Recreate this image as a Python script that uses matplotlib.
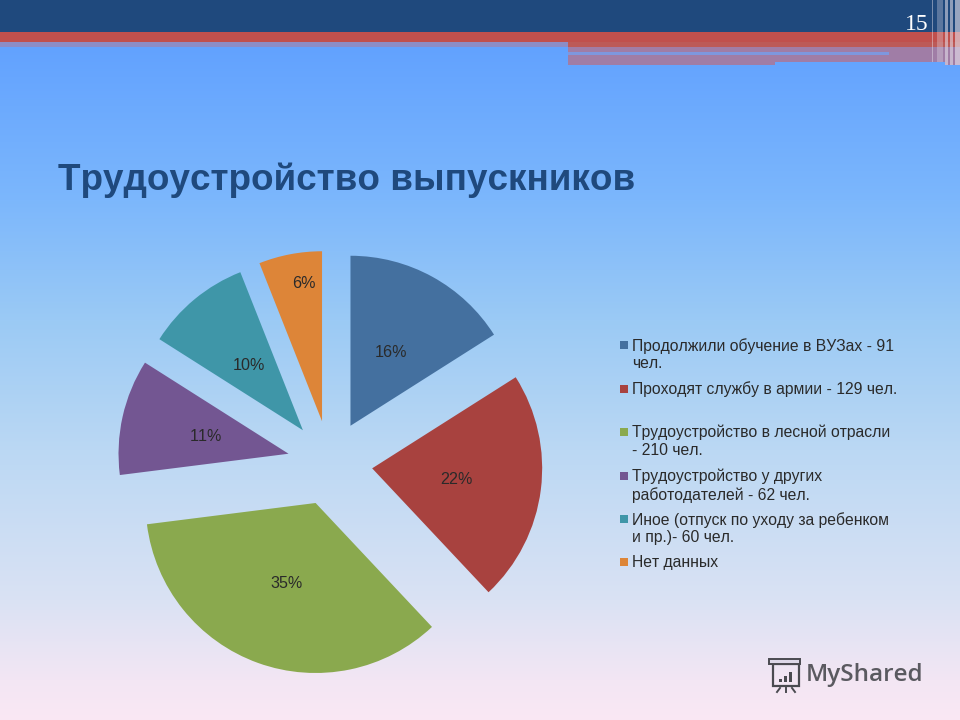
import numpy as np
import matplotlib
matplotlib.use("Agg")
import matplotlib.pyplot as plt
from matplotlib.patches import Rectangle

title = "Трудоустройство выпускников"
slide_number = "15"
watermark = "MyShared"
percent_values = [16, 22, 35, 11, 10, 6]
legend_labels = [
    "Продолжили обучение в ВУЗах - 91\nчел.",
    "Проходят службу в армии - 129 чел.",
    "Трудоустройство в лесной отрасли\n- 210 чел.",
    "Трудоустройство у других\nработодателей - 62 чел.",
    "Иное (отпуск по уходу за ребенком\nи пр.)- 60 чел.",
    "Нет данных",
]
slice_colors = ["#44709F", "#A8423F", "#8AA94E", "#735692", "#3F96A8", "#DD8538"]

plt.rcParams["font.family"] = ["Liberation Sans", "DejaVu Sans"]
plt.rcParams["text.kerning_factor"] = 6
W, H = 960, 720
fig = plt.figure(figsize=(9.6, 7.2), dpi=100)

# slide background in pixel coordinates
bg = fig.add_axes([0, 0, 1, 1])
bg.set_xlim(0, W)
bg.set_ylim(H, 0)
bg.axis("off")
ys = np.arange(H)
stop_y = [0, 47, 200, 320, 450, 600, 680, 720]
stop_c = np.array([(98, 162, 255), (98, 162, 255), (124, 183, 252), (155, 202, 245),
                   (187, 216, 243), (218, 226, 243), (243, 230, 243), (250, 232, 244)]) / 255
grad = np.stack([np.interp(ys, stop_y, stop_c[:, i]) for i in range(3)], axis=-1)[:, None, :]
bg.imshow(grad, extent=(0, W, H, 0), aspect="auto", zorder=0)

def band(x0, y0, x1, y1, c, a=1.0, z=1):
    bg.add_patch(Rectangle((x0, y0), x1 - x0, y1 - y0, fc=c, ec="none", alpha=a, zorder=z))

band(0, 0, W, 32, "#1F497D")
band(0, 32, W, 42, "#C0504D")
band(0, 42, 568, 47, "#8C8DC6")
band(568, 42, W, 47, "#BC5A58")
band(568, 47, 775, 65, "#A07DA6")
band(775, 47, 960, 62, "#A07DA6")
band(945, 62, 960, 65, "#A07DA6")
band(568, 52, 889, 55, "#7E97DE", z=2)
for x0, x1, y1, a in [(932, 933, 62, .45), (937, 943, 62, .3), (945, 948, 65, .55),
                      (950, 953, 65, .55), (955, 960, 65, .6)]:
    band(x0, 0, x1, y1, "#E8E4EE", a, z=3)

bg.text(917, 24, slide_number, family="Liberation Serif", fontsize=17, color="white",
        ha="center", va="center", zorder=4)
bg.text(58, 180, title, fontsize=26.6, fontweight="bold", color="#1F497D", va="center", ha="left")

# legend
marker_y = [345, 389, 432, 476, 519, 562]
text_top = [338, 381, 425, 469, 512, 555]
for c, lab, my, ty in zip(slice_colors, legend_labels, marker_y, text_top):
    band(619.5, my - 4, 627.5, my + 4, c, z=2)
    bg.text(632, ty, lab, fontsize=11.35, color="#2A2A2A", va="top", ha="left", linespacing=1.2)

# watermark
ink = "#4A4A50"
bg.add_patch(Rectangle((773, 664), 26, 22, fc="none", ec=ink, lw=1.6))
bg.add_patch(Rectangle((769, 659), 31, 5, fc="#DDD8E8", ec=ink, lw=1.4))
for x, h in zip([779, 784, 789], [3, 6, 10]):
    band(x, 682 - h, x + 3, 682, ink, z=3)
for x0, x1 in [(780, 777), (786, 786), (792, 795)]:
    bg.plot([x0, x1], [688, 692], color=ink, lw=1.4)
bg.text(806, 675, watermark, fontsize=17.5, family="Open Sans", fontweight="semibold",
        color="#5A5A60", va="center", ha="left")

# pie: 170 px radius, centre at (330, 463)
half = 255
R = 170
cx, cy = 330, 463
ax = fig.add_axes([(cx - half) / W, (H - cy - half) / H, 2 * half / W, 2 * half / H])
wedges, _, autotexts = ax.pie(percent_values, colors=slice_colors, startangle=90, counterclock=False,
                              explode=[0.25] * 6, autopct="%.0f%%", pctdistance=0.5,
                              textprops=dict(fontsize=11.6, color="#2A2A2A"))
for t in autotexts:
    x, y = t.get_position()
    t.set_position((x, y - 1 / R))
autotexts[5].set_position(((304 - cx) / R, (cy - 283) / R))
ax.set_xlim(-half / R, half / R)
ax.set_ylim(-half / R, half / R)
ax.patch.set_alpha(0)

fig.savefig("out.png", dpi=100)
